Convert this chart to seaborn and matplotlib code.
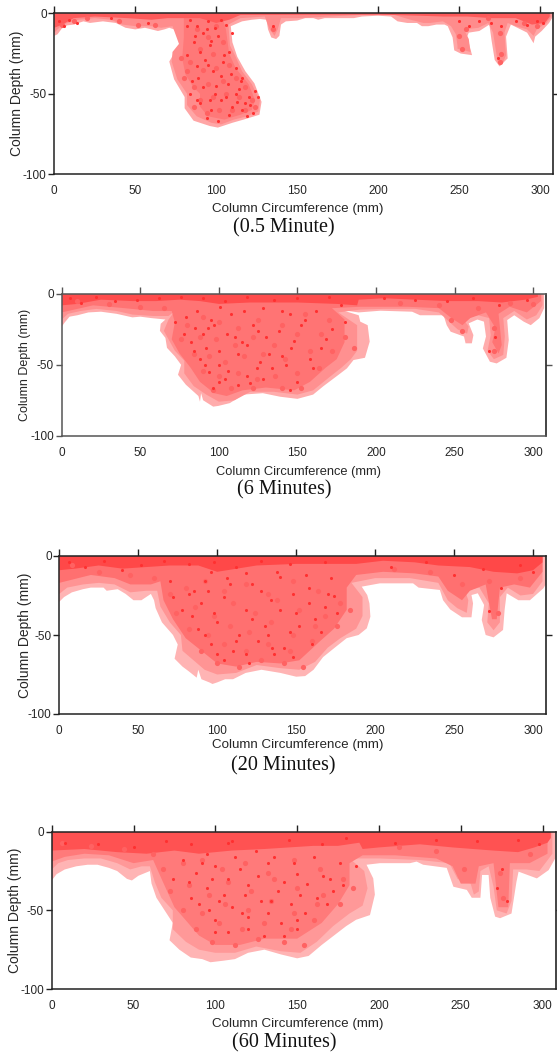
import numpy as np
import matplotlib
matplotlib.use("Agg")
import matplotlib.pyplot as plt
import seaborn as sns

# Wetting front outlines (circumference mm, depth mm)
p1_outer_x = [0,2,5,8,12,18,22,30,38,44,50,56,60,64,68,71,74,78,75,71,74,80.5,80.5,86,96,101,110,117,126.7,128,123.6,118,113,110,109,116,122,127,131,132,134,137,139,140,143,150,155,160,163,167,173,185,190,200,208,212,218,224,227,231,236,241,243,246,247,251,258,255,256,262.5,268.7,270,272,275,280,279,282,288,292,296,297,301,305.6,308]
p1_outer_d = [14,13,9,7.5,7,5,6,5,6,9,10,9,10,11,10,9,10,19,23,30,41,52,59,66.7,70,71,68,66,63,55,43.5,36,27,18,8,5,4,3.5,4,10,15,16,14,7,5,4.5,3,3,4,3,3,3,2,1.5,2,5,6,6,8,8,7,7,8,15,23,25,26,14.5,12,11,7,16.5,29,33,28,14.5,7,10,12,18.6,14.5,11,6,2]
p1_mid_x = [0,4,8,15,25,35,42,50,60,66,73,77,73,72.5,76,82,82,88,97,103,111,119,126,127,122,116,112,108.5,107.5,115,130,133,136,138,140,150,170,190,210,220,228,232,240,245,248,249,249,253,257,256,253,262,268,271,273,274,277,279,278,280,285,292,296,298,304,307]
p1_mid_d = [12,8,6,4,3,4,7,8,8,9,8,19,24,30,41,50,57,64,68,69,66,64,61,54,44,36,27,20,7,3,2,10,14,10,3,3,2,1,1,4,6,6,5,8,13,20,22,23,24,16,10,9,6,12,25,31,31,26,12,6,8,10,14,10,6,2]
p1_core_x = [80,80,79,81,86,90,90,95,105,115,122,124,120,112,108,106,104]
p1_core_d = [3,15,28,38,46,50,58,64,66,63,60,54,44,34,25,10,3]
p1_top_x = [0,5,12,25,45,60,70,90,100,108,115,200,225,240,255,270,285,295,303,306]
p1_top_d = [9,7,3,2,3,4,3,3,6,4,1,0.8,1.5,2,2,3,3,7,6,2]

p2_outer_x = [0,2,5,10,17,25,35,45,50,57,66,63,62.5,66,67,72,76,74,79,87,88,88.7,90,96.4,99.6,107,115.5,128,139,150,160,166.6,175,181.5,185.7,193,196,194.7,190,189,178,189,202.8,223,228,243,245,247.5,256,257,261,262,259,264.5,268.7,270,268,272.5,276.8,283,284.5,283.5,288,294,298.5,304,307]
p2_outer_d = [23,20,16,15,13,12.5,14,16.5,16,17,18,21,26,31,38,44,50,57,64,72,76,70,75,79.5,79,77,71,70,72.5,74,71,65,58,52.5,46.6,45,33.6,22,19.5,15,11.3,13,11.8,12.5,15,15,22,26.6,30,34.8,34.8,29,20.7,18,19.5,30,38.4,47.8,49,45,32.5,18.4,15,19.5,22,17,10]
p2_mid_x = [0,4,12,22,35,45,58,68,72,68,65,68,72,78,78,84,92,100,110,120,135,150,160,170,178,184,188,188,176,190,205,225,240,247,252,258,259,255,265,272,273,271,275,281,282,281,288,296,302,306]
p2_mid_d = [18,14,12,10.5,12,14.5,15.5,15.5,12,18,26,32,40,47,56,65,71,76,75,69,69,71,68,59,52,46,40,22,13,11,10.5,10.5,13,20,25,28,23,17,15,17,29,40,46,43,30,17,12,18,15,8]
p2_core_x = [0,8,20,40,58,70,72,70,75,82,88,97,105,115,130,148,158,168,175,180,180,172,190,220,240,248,255,260,270,276,274,278,280,278,285,296,305]
p2_core_d = [13,11,8,10,12,12,20,32,42,52,62,70,72,68,66,68,62,52,46,34,18,10,9,9,10,17,22,17,13,24,34,42,36,14,9,13,5]
p2_top_x = [0,10,25,45,60,75,88,100,120,150,175,188,189,205,225,245,265,280,295,303]
p2_top_d = [8,7,4,5,5,4,5,7,6,6,7,8,4,3,4,5,5,6,4,2]

p3_outer_x = [0,3,8,15,20,28,30,37,42,47,52,58,60,61,65,72,75,73,78,82,87,88,90,95,97,100,105,110,118,128,140,150,155.7,161,167,175.7,182,189.5,194.7,197,196.4,195,191.5,203,224,227.5,241,243,247.5,255,261,262,261,265,269,267.5,270,275,281,282,283.3,290.7,298,306.5,308]
p3_outer_d = [29,26,23,21,20,20,22,21,24,28,28,24,28,33,42,50,56,65,70,73,77,72,78,80,81,80,78,78,74,72,74,76.4,76,72,64,57,52,50,45.8,38.4,30,24.7,19.4,17.3,17.3,20,21.5,28,33.8,38.8,38.8,30,24.7,23.6,31,40.5,50,51.5,46.8,34,23.6,28,28,20.5,18]
p3_mid_x = [0,5,15,25,35,45,55,62,64,70,77,78,85,92,100,112,125,140,152,162,170,178,188,192,192,185,200,222,240,246,252,258,259,257,266,272,271,275,279,279,284,292,300,306]
p3_mid_d = [24,20,18,17,18,23,22,22,32,42,50,60,66,72,75,74,69,71,72,67,58,52,46,38,26,17,14,14,17,28,33,36,28,22,20,30,42,47,42,26,20,25,24,16]
p3_core_x = [0,8,20,35,45,58,64,66,72,80,90,100,112,125,140,152,165,174,182,182,188,205,225,240,246,255,260,270,274,277,279,288,298,306]
p3_core_d = [17,15,12,14,18,18,16,28,40,52,60,68,70,67,68,66,54,46,34,20,12,10,11,13,22,28,22,18,40,40,20,18,20,10]
p3_top_x = [0,10,25,40,55,70,88,100,125,150,188,205,225,240,260,275,290,300,306]
p3_top_d = [9,8,6,8,7,6,6,10,6,5,5,3,4,6,7,10,11,9,4]

p4_outer_x = [0,3,8,15,22,28,35,40,46,49,53,60,61,64,69,74,72,78,85,92,97,105,112,120,130,140,150,157,165,170,180,186,194.5,197.5,196.5,192.4,200.6,219,223,227,241.4,245.5,253.7,256.7,262,263,267,268,271,274,281,284,285.3,296.5,303.7,307.7]
p4_outer_d = [31,27,24,22,21,21,23,25,30,31,28,25,33,42,50,58,69,75,80,81,83,82,81,77,75,78,80.5,79,72,68,60,56,53,40,29.7,21,20,20,19,21,23,35,37,42,42,27.5,27.5,42,54,55,52,32,25.4,29.7,24.4,17]
p4_mid_x = [0,4,10,20,30,40,48,55,60,63,67,74,74,82,90,100,112,125,140,152,162,172,182,190,193,191,182,200,225,243,248,256,258,261,262,267,270,272,278,281,282,290,298,306]
p4_mid_d = [24,20,18,17,17,20,24,22,22,32,42,50,62,70,75,77,77,73,76,77,70,60,52,47,36,25,17,17,18,20,30,33,40,38,25,22,35,50,52,44,24,24,25,14]
p4_core_x = [0,8,20,35,50,62,68,75,85,90,100,115,130,150,165,175,182,182,190,210,235,245,250,259,261,270,273,279,280,292,303]
p4_core_d = [19,16,14,15,20,18,32,48,60,66,72,72,68,68,58,46,34,20,15,15,17,22,33,33,22,20,48,48,20,20,14]
p4_top_x = [0,20,40,58,75,90,110,130,160,175,188,190,200,225,245,270,285,295,303,305]
p4_top_d = [12,11,13,14,12,14,12,11,9,9,7,11,10,8,10,12,13,10,7,4]

# Mid-tone patches inside the wetted zone
p1_blob_x = [88,95,100,90,98,104,84,92,100,108,80,86,95,104,112,118,90,98,106,114,122,86,94,102,110,118,124,78,82,5,12,20,40,52,62,254,250,252,268,275,276,275,290,298,135]
p1_blob_d = [10,15,8,22,25,18,30,35,34,32,40,46,44,42,40,46,54,52,50,52,54,58,62,60,60,60,58,28,36,7,5,3,5,7,7,10,14,22,3,12,25,30,6,8,10]
p2_blob_x = [80,90,100,112,125,140,155,170,76,88,98,110,122,135,150,165,180,84,94,104,116,128,142,158,172,186,90,100,112,124,136,150,164,96,108,122,140,152,248,255,275,275,10,30,50,65,215,240,265,285,300]
p2_blob_d = [22,16,20,24,18,22,14,18,32,30,32,36,30,36,28,28,30,42,44,48,44,42,46,40,40,38,54,58,56,60,58,56,52,68,66,66,66,66,18,26,24,40,5,7,9,10,6,8,10,6,7]
p3_blob_x = [70,80,92,104,118,132,148,164,178,74,86,98,110,124,138,152,168,184,82,94,108,120,134,148,162,176,90,104,118,132,146,160,100,114,128,142,154,8,25,45,60,212,235,255,272,278,292]
p3_blob_d = [24,20,16,22,18,24,16,22,30,36,32,38,30,36,28,34,38,34,46,50,44,48,42,50,44,44,60,56,60,56,60,54,68,70,66,68,70,6,10,12,14,8,10,18,16,36,14]
p4_blob_x = [68,80,92,104,118,132,148,164,178,72,84,96,108,122,136,150,166,184,80,92,106,120,134,148,162,176,88,102,116,130,146,160,98,112,126,142,154,6,24,44,62,212,235,252,274,276,292]
p4_blob_d = [24,20,18,24,20,26,18,24,30,38,34,40,32,38,30,36,40,36,50,52,46,50,44,52,46,46,62,58,62,58,62,56,70,72,68,70,72,7,9,11,14,10,12,24,26,42,14]

# Darkest speckles inside the wetted zone
p1_spot_x = [3,6,9,14,35,58,84,88,92,95,99,103,106,86,90,96,101,105,110,88,93,98,104,112,116,85,92,99,107,114,120,124,90,97,103,110,118,123,94,101,108,116,250,256,262,270,276,274,285,292,298,302,135,82,87,94,97,108,82,89,95,103,109,115,100,106,113,121,84,88,96,112,119,126]
p1_spot_d = [5,8,4,6,3,6,4,8,12,5,9,4,7,18,24,20,14,26,12,33,29,36,30,34,40,42,46,50,44,47,52,48,56,60,54,58,56,62,65,67,63,60,5,8,5,6,8,28,5,7,5,6,8,8,14,10,17,24,26,40,32,39,38,42,45,52,55,57,50,54,54,50,64,52]
p2_spot_x = [5,12,22,34,48,62,76,90,104,118,135,150,170,85,95,108,122,140,155,172,82,92,105,118,130,148,165,88,100,112,126,140,158,94,104,118,134,150,96,112,128,205,225,245,262,278,296,276,272,79,86,93,101,116,128,145,162,178,72,78,90,97,110,125,138,152,180,84,100,115,132,146,168,91,106,124,143,160,100,120,145]
p2_spot_d = [3,6,2,5,4,3,2,3,5,2,4,3,2,24,18,14,22,12,18,25,34,38,28,36,30,33,38,46,50,42,48,44,46,55,60,58,52,62,66,64,60,3,4,5,3,8,4,30,40,16,12,24,9,12,10,14,12,8,20,28,28,22,30,26,26,22,20,40,40,34,42,38,32,50,54,52,50,52,62,63,68]
p3_spot_x = [6,16,28,40,52,66,82,98,112,128,146,168,85,92,106,122,140,158,174,78,90,104,118,134,150,168,88,100,114,130,146,162,96,110,126,142,104,120,136,210,232,250,268,280,292,300,272,70,96,118,138,156,172,72,82,94,108,128,148,170,84,98,122,140,158,176,92,112,132,152,166,100,118,135,148,160]
p3_spot_d = [4,7,3,9,6,3,5,4,7,3,5,4,22,16,14,18,13,20,25,34,30,26,34,28,36,32,46,42,50,44,48,40,56,60,54,58,66,68,62,7,4,12,8,20,6,10,35,16,10,11,10,12,14,26,24,22,18,22,24,24,38,36,40,34,30,36,50,54,50,44,48,62,62,58,64,56]
p4_spot_x = [8,28,50,70,85,95,108,110,125,145,165,180,210,235,260,285,298,88,100,115,132,150,170,95,105,120,138,156,172,90,110,128,146,162,100,120,140,155,108,130,150,275,272,278,80,92,112,136,148,160,176,186,74,84,98,108,126,142,166,178,85,102,118,134,152,168,96,116,132,150,100,120,142]
p4_spot_d = [7,8,10,6,8,14,7,6,12,5,8,4,7,5,6,5,8,26,22,24,20,27,30,36,40,34,38,33,38,46,48,44,46,42,56,54,58,52,64,66,62,24,36,44,18,20,16,16,20,16,20,22,30,32,30,30,28,32,28,34,42,44,40,44,40,46,50,52,52,56,64,62,66]

x_ticks = [0, 50, 100, 150, 200, 250, 300]
y_ticks = [0, -50, -100]
panel_titles = ["(0.5 Minute)", "(6 Minutes)", "(20 Minutes)", "(60 Minutes)"]

W, H = 557, 1052
# pixel boxes of the four axes: left, right, top, bottom
boxes = [(54.3, 553, 13.3, 174.3), (61.7, 545.7, 294, 435.7),
         (59.3, 545.7, 556, 714), (51.7, 555.7, 831.7, 989)]
xlabel_y = [209, 472, 745, 1024]
xlabel_x = [298, 298, 298, 298]
title_y = [228, 490, 766, 1043]
title_x = [284, 284, 283, 284]
ylabel_x = [17, 25, 25, 15]
ylabel_size = [10, 9, 10, 10]
xlabel_size = [9.6, 9.3, 9.6, 9.6]
spine_color = ["#222222", "#555555", "#222222", "#222222"]

sns.set_style("ticks")
plt.rcParams["font.family"] = ["Liberation Sans", "DejaVu Sans"]
plt.rcParams["axes.unicode_minus"] = False

panel_shades = [
    ["#ffa6a6", "#ff8c8c", "#ff7878", "#ff5a5a"],
    ["#ffacac", "#ff9090", "#ff7474", "#ff4c4c"],
    ["#ffb4b4", "#ff9494", "#ff7070", "#ff4848"],
    ["#ffb4b4", "#ff9898", "#ff7a7a", "#ff5252"],
]
blob_color = "#ff6262"
spot_color = "#ff3030"

bands = [
    [(p1_outer_x, p1_outer_d), (p1_mid_x, p1_mid_d), (p1_core_x, p1_core_d), (p1_top_x, p1_top_d)],
    [(p2_outer_x, p2_outer_d), (p2_mid_x, p2_mid_d), (p2_core_x, p2_core_d), (p2_top_x, p2_top_d)],
    [(p3_outer_x, p3_outer_d), (p3_mid_x, p3_mid_d), (p3_core_x, p3_core_d), (p3_top_x, p3_top_d)],
    [(p4_outer_x, p4_outer_d), (p4_mid_x, p4_mid_d), (p4_core_x, p4_core_d), (p4_top_x, p4_top_d)],
]
blobs = [(p1_blob_x, p1_blob_d), (p2_blob_x, p2_blob_d), (p3_blob_x, p3_blob_d), (p4_blob_x, p4_blob_d)]
spots = [(p1_spot_x, p1_spot_d), (p2_spot_x, p2_spot_d), (p3_spot_x, p3_spot_d), (p4_spot_x, p4_spot_d)]

fig = plt.figure(figsize=(W / 100, H / 100), dpi=100)

for i, (l, r, t, b) in enumerate(boxes):
    ax = fig.add_axes([l / W, 1 - b / H, (r - l) / W, (b - t) / H])

    for (bx, bd), col in zip(bands[i], panel_shades[i]):
        # outlines hang from the column top, so close them along depth 0
        xs = [bx[0]] + list(bx) + [bx[-1]]
        ys = [0] + [-v for v in bd] + [0]
        ax.fill(xs, ys, color=col, lw=0)

    sns.scatterplot(x=blobs[i][0], y=-np.array(blobs[i][1]), ax=ax, color=blob_color,
                    s=14, linewidth=0, legend=False, zorder=3)
    sns.scatterplot(x=spots[i][0], y=-np.array(spots[i][1]), ax=ax, color=spot_color,
                    s=5, linewidth=0, legend=False, zorder=4)

    ax.set_xlim(0, 308)
    ax.set_ylim(-100, 0)
    ax.set_xticks(x_ticks)
    ax.set_yticks(y_ticks)
    ax.tick_params(axis="x", bottom=False, top=True, length=5, width=1, labelsize=8.5, pad=3, color=spine_color[i])
    ax.tick_params(axis="y", left=True, right=True, length=4, width=1, labelsize=8.5, pad=1.5, color=spine_color[i])
    # right side only carries the middle tick
    yt = ax.yaxis.get_major_ticks()
    yt[0].tick2line.set_visible(False)
    yt[2].tick2line.set_visible(False)
    for s in ax.spines.values():
        s.set_visible(True)
        s.set_linewidth(1.1)
        s.set_color(spine_color[i])
    ax.spines["right"].set_color("#111111")

    ax.set_xlabel("Column Circumference (mm)", fontsize=xlabel_size[i])
    ax.xaxis.set_label_coords(xlabel_x[i] / W, 1 - xlabel_y[i] / H, transform=fig.transFigure)
    ax.set_ylabel("Column Depth (mm)", fontsize=ylabel_size[i])
    ax.yaxis.set_label_coords(ylabel_x[i] / W, 1 - (t + b) / 2 / H, transform=fig.transFigure)
    ax.xaxis.label.set_verticalalignment("center")
    ax.yaxis.label.set_verticalalignment("center")

    fig.text(title_x[i] / W, 1 - title_y[i] / H, panel_titles[i], family="Liberation Serif",
             fontsize=14.5, ha="center", va="center", color="#111111")

fig.savefig("out.png", dpi=100)
